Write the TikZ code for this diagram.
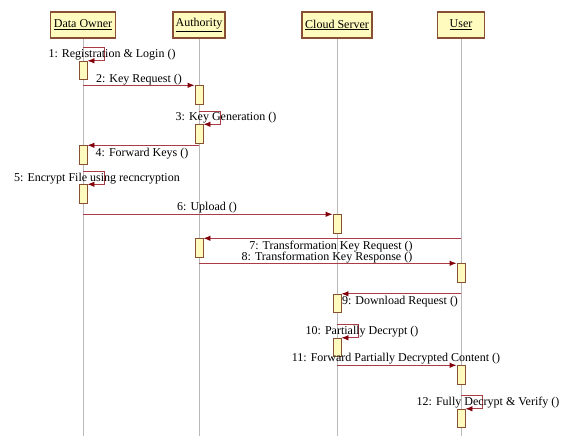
\documentclass[tikz,border=0pt]{standalone}
\usepackage{fontspec}
\setmainfont{Liberation Serif}
\usetikzlibrary{arrows.meta}
\definecolor{headfill}{RGB}{255,250,190}
\definecolor{headdraw}{RGB}{135,80,50}
\definecolor{msgline}{RGB}{170,60,70}
\definecolor{msghead}{RGB}{130,0,10}
\definecolor{lifegray}{RGB}{185,185,185}
\tikzset{
	head node/.style={rectangle, draw=headdraw, fill=headfill, line width=1.1pt, minimum height=26, inner sep=2, font=\fontsize{12}{13}\selectfont},
	act node/.style={rectangle, draw=headdraw, fill=headfill, line width=0.9pt, minimum width=8, minimum height=18.5, inner sep=0},
	life line/.style={draw=lifegray, line width=1pt},
	msg/.style={draw=msgline, line width=0.9pt, -{Latex[length=7pt,width=5.5pt,color=msghead]}},
	msg label/.style={font=\fontsize{12}{13}\selectfont, inner sep=0},
}
\begin{document}
\begin{tikzpicture}[x=1pt, y=-1pt]
  \useasboundingbox (0,0) rectangle (571,436);

  % lifeline heads
  \node[head node, minimum width=65] (do) at (83,25) {\underline{Data Owner}};
  \node[head node, minimum width=52] (auth) at (199,25) {\underline{Authority}};
  \node[head node, minimum width=70] (cloud) at (337,25) {\underline{Cloud Server}};
  \node[head node, minimum width=47] (user) at (461,25) {\underline{User}};

  \foreach \n in {do, auth, cloud, user}
    \draw[life line] (\n.south) -- (\n |- 0,436);

  % activations
  \node[act node] (a1) at (83,70.5) {};
  \node[act node] (a2) at (199,95) {};
  \node[act node] (a3) at (199,134) {};
  \node[act node] (a4) at (83,155) {};
  \node[act node] (a5) at (83,194) {};
  \node[act node] (a6) at (337,224) {};
  \node[act node] (a7) at (199,248) {};
  \node[act node] (a8) at (461,273) {};
  \node[act node] (a9) at (337,303.5) {};
  \node[act node] (a10) at (337,347.5) {};
  \node[act node] (a11) at (461,375) {};
  \node[act node] (a12) at (461,418.5) {};

  % messages
  \draw[msg] (do |- a1.north) ++(0,-13) -| ([xshift=17pt]a1.north east) -- (a1.north east);
  \node[msg label] (l1) at (112,55) {1: Registration \& Login ()};

  \draw[msg] (do |- a2.north) -- (a2.north west);
  \node[msg label] (l2) at (139,80) {2: Key Request ()};

  \draw[msg] (auth |- a3.north) ++(0,-13) -| ([xshift=17pt]a3.north east) -- (a3.north east);
  \node[msg label] (l3) at (226,118) {3: Key Generation ()};

  \draw[msg] (auth |- a4.north) -- (a4.north east);
  \node[msg label] (l4) at (142,154) {4: Forward Keys ()};

  \draw[msg] (do |- a5.north) ++(0,-13) -| ([xshift=17pt]a5.north east) -- (a5.north east);
  \node[msg label] (l5) at (97,179) {5: Encrypt File using recncryption};

  \draw[msg] (do |- a6.north) -- (a6.north west);
  \node[msg label] (l6) at (207,208) {6: Upload ()};

  \draw[msg] (user |- a7.north) -- (a7.north east);
  \node[msg label] (l7) at (331,247) {7: Transformation Key Request ()};

  \draw[msg] (auth |- a8.north) -- (a8.north west);
  \node[msg label] (l8) at (327,258) {8: Transformation Key Response ()};

  \draw[msg] (user |- a9.north) -- (a9.north east);
  \node[msg label] (l9) at (400,302) {9: Download Request ()};

  \draw[msg] (cloud |- a10.north) ++(0,-13) -| ([xshift=17pt]a10.north east) -- (a10.north east);
  \node[msg label] (l10) at (362,332) {10: Partially Decrypt ()};

  \draw[msg] (cloud |- a11.north) -- (a11.north west);
  \node[msg label] (l11) at (396,359) {11: Forward Partially Decrypted Content ()};

  \draw[msg] (user |- a12.north) ++(0,-13) -| ([xshift=17pt]a12.north east) -- (a12.north east);
  \node[msg label] (l12) at (488,403) {12: Fully Decrypt \& Verify ()};

\end{tikzpicture}
\end{document}
